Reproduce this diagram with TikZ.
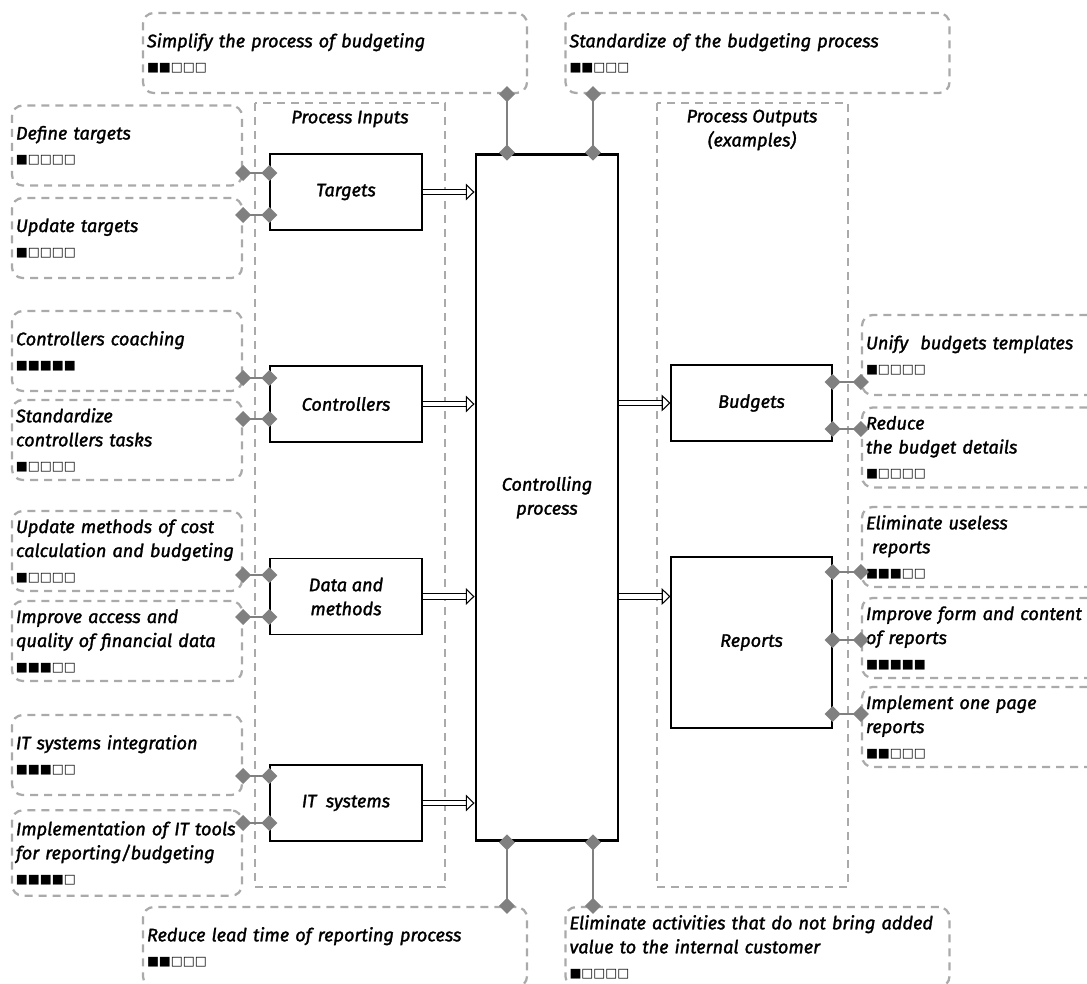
\documentclass[tikz,border=0pt]{standalone}
\usepackage{fontspec}
\setmainfont{Fira Sans}[ItalicFeatures={FakeBold=1.6}]
\newfontfamily\symfont{DejaVu Sans}
\usetikzlibrary{positioning,arrows.meta,calc}
\definecolor{dashgray}{RGB}{170,170,170}
\definecolor{linkgray}{RGB}{128,128,128}
\newcommand{\rate}[1]{{\symfont\fontsize{9.5}{12}\selectfont #1}}

\begin{document}
\begin{tikzpicture}[x=0.75pt,y=-0.75pt,
  font=\fontsize{13.6}{18}\selectfont\itshape,
  idea/.style={draw=dashgray, line width=1.7pt, dash pattern=on 6pt off 4.5pt,
    rounded corners=8pt, align=left, inner xsep=3pt, minimum height=60pt},
  leftidea/.style={idea, text width=166.5pt},
  wideidea/.style={idea, text width=282pt},
  rightidea/.style={idea, text width=181.5pt},
  column/.style={draw=dashgray, line width=1.7pt, dash pattern=on 6pt off 4.5pt},
  stage/.style={draw, line width=0.9pt, minimum height=57pt, align=center},
  link/.style={draw=linkgray, line width=1.6pt,
    {Diamond[length=12pt,width=12pt]}-{Diamond[length=12pt,width=12pt]},
    shorten <=-6pt, shorten >=-6pt},
  flow/.style={double, double distance=3.4pt, line width=0.8pt,
    -{Triangle[open, fill=white, length=6.5pt, width=12.5pt, line width=0.8pt]}}]

\clip (0,0) rectangle (1087,983);

% Columns
\draw[column] (255,103) rectangle (445,887);
\draw[column] (657,103) rectangle (848,887);
\node at (350,119) {Process Inputs};
\node[align=center] at (752,130) {Process Outputs\\(examples)};

% Central process
\node[draw, line width=2.2pt, minimum width=106.5pt, minimum height=515pt, align=center]
  (ctl) at (547,497.5) {Controlling\\process};

% Inputs
\node[stage, minimum width=114pt] (tgt) at (346,192) {Targets};
\node[stage, minimum width=114pt] (ctr) at (346,404) {Controllers};
\node[stage, minimum width=114pt] (dat) at (346,596.5) {Data and\\methods};
\node[stage, minimum width=114pt] (its) at (346,803) {IT\ \ systems};

% Outputs
\node[stage, minimum width=120.75pt] (bud) at (751.5,403) {Budgets};
\node[stage, minimum width=120.75pt, minimum height=128.25pt] (rep) at (751.5,642.5) {Reports};

% Flows
\draw[flow] (tgt.east) -- (tgt.east -| ctl.west);
\draw[flow] (ctr.east) -- (ctr.east -| ctl.west);
\draw[flow] (dat.east) -- (dat.east -| ctl.west);
\draw[flow] (its.east) -- (its.east -| ctl.west);
\draw[flow] (ctl.east |- bud.west) -- (bud.west);
\draw[flow] (ctl.east |- dat.east) -- (rep.west |- dat.east);

% Improvement ideas, left
\node[leftidea] (deftgt) at (127,145.5) {Define targets\\\rate{■□□□□}};
\node[leftidea] (updtgt) at (127,238) {Update targets\\\rate{■□□□□}};
\node[leftidea] (coach) at (127,351) {Controllers coaching\\\rate{■■■■■}};
\node[leftidea] (stdtask) at (127,440) {Standardize\\controllers tasks\\\rate{■□□□□}};
\node[leftidea] (updmeth) at (127,551) {Update methods of cost\\calculation and budgeting\\\rate{■□□□□}};
\node[leftidea] (access) at (127,641) {Improve access and\\quality of financial data\\\rate{■■■□□}};
\node[leftidea] (itint) at (127,755) {IT systems integration\\\rate{■■■□□}};
\node[leftidea, minimum height=64pt] (ittools) at (127,853) {Implementation of IT tools\\for reporting/budgeting\\\rate{■■■■□}};

% Improvement ideas, right
\node[rightidea] (unify) at (987,355) {Unify\ \ budgets templates\\\rate{■□□□□}};
\node[rightidea] (detail) at (987,447.5) {Reduce\\the budget details\\\rate{■□□□□}};
\node[rightidea] (useless) at (987,547) {Eliminate useless\\\ reports\\\rate{■■■□□}};
\node[rightidea] (form) at (987,638) {Improve form and content\\of reports\\\rate{■■■■■}};
\node[rightidea] (onepage) at (987,727) {Implement one page\\reports\\\rate{■■□□□}};

% Improvement ideas, top and bottom
\node[wideidea] (simp) at (335,53) {Simplify the process of budgeting\\\rate{■■□□□}};
\node[wideidea] (stdproc) at (757.5,53) {Standardize of the budgeting process\\\rate{■■□□□}};
\node[wideidea] (lead) at (335,947) {Reduce lead time of reporting process\\\rate{■■□□□}};
\node[wideidea] (elim) at (757.5,947) {Eliminate activities that do not bring added\\value to the internal customer\\\rate{■□□□□}};

% Links
\foreach \src/\dst/\yy in {deftgt/tgt/173, updtgt/tgt/215, coach/ctr/378, stdtask/ctr/419,
    updmeth/dat/575, access/dat/617, itint/its/776, ittools/its/823}
  \draw[link] (\src.east |- 0,\yy) -- (\dst.west |- 0,\yy);
\foreach \src/\dst/\yy in {bud/unify/382, bud/detail/429, rep/useless/572, rep/form/640, rep/onepage/714}
  \draw[link] (\src.east |- 0,\yy) -- (\dst.west |- 0,\yy);
\draw[link] (simp.south -| 507,0) -- (ctl.north -| 507,0);
\draw[link] (stdproc.south -| 593,0) -- (ctl.north -| 593,0);
\draw[link] (ctl.south -| 507,0) -- (lead.north -| 507,0);
\draw[link] (ctl.south -| 593,0) -- (elim.north -| 593,0);

\end{tikzpicture}
\end{document}
